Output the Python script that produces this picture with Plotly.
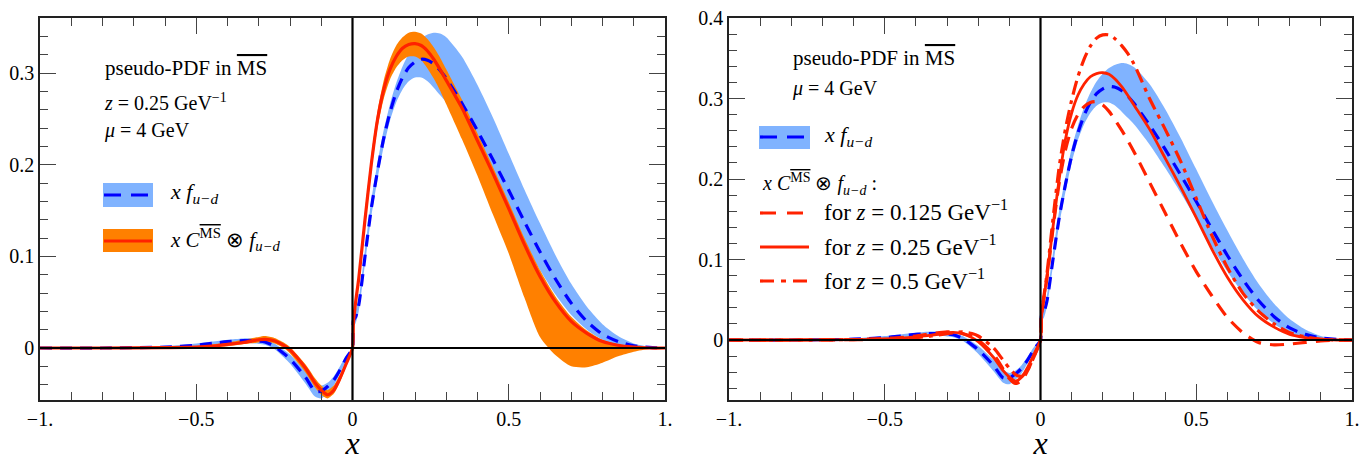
import plotly.graph_objects as go

# ---------------- data ----------------
X_GRID = [-1.0, -0.8, -0.6, -0.5, -0.45, -0.4, -0.35, -0.3, -0.28, -0.25, -0.22, -0.2,
          -0.15, -0.12, -0.1, -0.08, -0.06, -0.04, -0.02, 0.0, 0.003, 0.01, 0.02, 0.04,
          0.06, 0.08, 0.1, 0.12, 0.14, 0.16, 0.18, 0.2, 0.22, 0.24, 0.26, 0.28, 0.3,
          0.35, 0.4, 0.45, 0.5, 0.55, 0.6, 0.65, 0.7, 0.75, 0.8, 0.85, 0.9, 0.95, 1.0]

# x f_{u-d}: central, upper, lower
F_CENTRAL = [0, 0, 0.001, 0.003, 0.005, 0.007, 0.008, 0.0075, 0.0065, 0.002, -0.006, -0.012,
             -0.032, -0.047, -0.047, -0.042, -0.035, -0.024, -0.011, 0, 0.03, 0.034, 0.047, 0.100,
             0.152, 0.193, 0.229, 0.257, 0.279, 0.295, 0.306, 0.312, 0.315, 0.314, 0.310, 0.303, 0.294,
             0.267, 0.237, 0.205, 0.172, 0.138, 0.105, 0.075, 0.049, 0.029, 0.015, 0.007, 0.0025, 0.0007, 0]
F_UPPER = [0, 0.0005, 0.002, 0.005, 0.007, 0.009, 0.0105, 0.0105, 0.0095, 0.005, -0.002, -0.007,
           -0.025, -0.037, -0.041, -0.038, -0.031, -0.020, -0.008, 0, 0.036, 0.041, 0.054, 0.108,
           0.161, 0.202, 0.238, 0.266, 0.289, 0.307, 0.321, 0.331, 0.338, 0.342, 0.344, 0.343, 0.339,
           0.318, 0.287, 0.251, 0.212, 0.173, 0.136, 0.101, 0.070, 0.045, 0.026, 0.013, 0.005, 0.0015, 0]
F_LOWER = [0, -0.0005, 0, 0.001, 0.003, 0.005, 0.0055, 0.0045, 0.0035, -0.001, -0.010, -0.017,
           -0.039, -0.053, -0.055, -0.049, -0.041, -0.028, -0.014, 0, 0.024, 0.027, 0.040, 0.092,
           0.143, 0.184, 0.220, 0.248, 0.268, 0.282, 0.291, 0.295, 0.295, 0.291, 0.284, 0.276, 0.268,
           0.243, 0.214, 0.183, 0.150, 0.116, 0.085, 0.058, 0.036, 0.020, 0.009, 0.003, 0.001, 0, 0]

# x C^MSbar (x) f_{u-d}, z = 0.25 GeV^-1 : central, upper, lower
C_Z025 = [0, 0, 0.0005, 0.001, 0.002, 0.004, 0.006, 0.009, 0.0095, 0.008, 0.003, -0.002,
          -0.022, -0.038, -0.046, -0.051, -0.046, -0.033, -0.017, 0, 0.028, 0.05, 0.076, 0.14,
          0.2, 0.249, 0.282, 0.304, 0.318, 0.327, 0.331, 0.332, 0.330, 0.324, 0.315, 0.304, 0.292,
          0.262, 0.226, 0.19, 0.152, 0.113, 0.078, 0.050, 0.029, 0.016, 0.007, 0.003, 0.001, 0, 0]
C_UPPER = [0, 0, 0.001, 0.002, 0.004, 0.006, 0.009, 0.012, 0.013, 0.011, 0.006, 0.001,
           -0.018, -0.033, -0.041, -0.046, -0.041, -0.029, -0.014, 0, 0.033, 0.056, 0.083, 0.149,
           0.209, 0.258, 0.292, 0.315, 0.330, 0.339, 0.344, 0.345, 0.343, 0.337, 0.328, 0.317, 0.304,
           0.271, 0.234, 0.197, 0.159, 0.12, 0.085, 0.056, 0.034, 0.019, 0.009, 0.004, 0.0015, 0, 0]
C_LOWER = [0, 0, 0, 0, 0.001, 0.002, 0.004, 0.006, 0.007, 0.005, 0, -0.006,
           -0.027, -0.043, -0.051, -0.055, -0.050, -0.037, -0.020, 0, 0.022, 0.044, 0.069, 0.131,
           0.191, 0.24, 0.272, 0.293, 0.306, 0.314, 0.318, 0.318, 0.314, 0.305, 0.294, 0.281, 0.266,
           0.228, 0.188, 0.145, 0.103, 0.055, 0.012, -0.008, -0.020, -0.021, -0.016, -0.009, -0.004, -0.001, 0]

# right panel: z = 0.125 and z = 0.5 GeV^-1
C_Z0125 = [0, 0, 0.0005, 0.002, 0.003, 0.005, 0.008, 0.010, 0.010, 0.008, 0.004, 0,
           -0.018, -0.036, -0.048, -0.054, -0.050, -0.037, -0.019, 0, 0.03, 0.05, 0.075, 0.138,
           0.195, 0.236, 0.263, 0.28, 0.29, 0.295, 0.296, 0.292, 0.284, 0.273, 0.261, 0.248, 0.234,
           0.196, 0.158, 0.12, 0.085, 0.055, 0.028, 0.009, -0.003, -0.006, -0.005, -0.003, -0.001, 0, 0]
C_Z05 = [0, 0, 0.0005, 0.001, 0.002, 0.003, 0.005, 0.008, 0.009, 0.010, 0.008, 0.005,
         -0.010, -0.025, -0.035, -0.043, -0.045, -0.036, -0.020, 0, 0.03, 0.052, 0.08, 0.15,
         0.215, 0.262, 0.298, 0.327, 0.349, 0.365, 0.375, 0.379, 0.379, 0.374, 0.366, 0.356, 0.343,
         0.300, 0.262, 0.222, 0.176, 0.13, 0.09, 0.058, 0.036, 0.02, 0.009, 0.004, 0.001, 0, 0]

X_TICKVALS = [-1, -0.5, 0, 0.5, 1]
X_TICKTEXT = ["\u22121.", "\u22120.5", "0", "0.5", "1."]
Y1_TICKVALS = [0, 0.1, 0.2, 0.3]
Y1_TICKTEXT = ["0", "0.1", "0.2", "0.3"]
Y2_TICKVALS = [0, 0.1, 0.2, 0.3, 0.4]
Y2_TICKTEXT = ["0", "0.1", "0.2", "0.3", "0.4"]

# ---------------- styling ----------------
OFF = 8                      # page body margin
W, H = 1370 - OFF, 461 - OFF
ML, MR, MT, MB = 40 - OFF, W - (1352 - OFF), 18 - OFF, H - (400 - OFF)
PW, PH = W - ML - MR, H - MT - MB
FONT = "Liberation Serif"
LBLUE = "#80b3ff"
DBLUE = "#0000ff"
ORANGE = "#ff8000"
RED = "#ff2200"
SM = 0.7


def pp(px, py):
    """page pixel -> paper fraction"""
    fx, fy = px - OFF, py - OFF
    return (fx - ML) / PW, (H - MB - fy) / PH


fig = go.Figure()


def band(lower, upper, color, xa, ya):
    fig.add_trace(go.Scatter(x=X_GRID, y=lower, mode="lines", line=dict(width=0, shape="spline", smoothing=SM),
                             xaxis=xa, yaxis=ya, showlegend=False, hoverinfo="skip"))
    fig.add_trace(go.Scatter(x=X_GRID, y=upper, mode="lines", line=dict(width=0, shape="spline", smoothing=SM),
                             fill="tonexty", fillcolor=color, xaxis=xa, yaxis=ya, showlegend=False,
                             hoverinfo="skip"))


def curve(y, color, dash, width, xa, ya):
    fig.add_trace(go.Scatter(x=X_GRID, y=y, mode="lines",
                             line=dict(color=color, dash=dash, width=width, shape="spline", smoothing=SM),
                             xaxis=xa, yaxis=ya, showlegend=False, hoverinfo="skip"))


# left panel
band(F_LOWER, F_UPPER, LBLUE, "x", "y")
band(C_LOWER, C_UPPER, ORANGE, "x", "y")
curve(F_CENTRAL, DBLUE, "12px,8px", 3.2, "x", "y")
curve(C_Z025, RED, "solid", 3.2, "x", "y")

# right panel
band(F_LOWER, F_UPPER, LBLUE, "x2", "y2")
curve(F_CENTRAL, DBLUE, "12px,8px", 3.2, "x2", "y2")
curve(C_Z0125, RED, "14px,9px", 3.2, "x2", "y2")
curve(C_Z025, RED, "solid", 2.8, "x2", "y2")
curve(C_Z05, RED, "14px,6px,4px,6px", 3.2, "x2", "y2")

axis_common = dict(showgrid=False, zeroline=False, showline=True, linecolor="#222", linewidth=1.5,
                   mirror="allticks", ticks="inside", tickcolor="#444", tickwidth=1.3, automargin=False,
                   ticklabeloverflow="allow",
                   tickfont=dict(family=FONT, size=20, color="black"))

xl_dom = [0, (665 - 40) / PW]
xr_dom = [(729 - 40) / PW, 1]

xaxis_kw = dict(axis_common, range=[-1, 1], tickvals=X_TICKVALS, ticktext=X_TICKTEXT, ticklen=16,
                minor=dict(dtick=0.1, tick0=0, ticks="inside", ticklen=8, tickcolor="#444", tickwidth=1.2,
                           showgrid=False),
                title=dict(text="<i>x</i>", font=dict(family=FONT, size=32, color="black"), standoff=10))

yminor = dict(dtick=0.02, tick0=0, ticks="inside", ticklen=8, tickcolor="#444", tickwidth=1.2, showgrid=False)

fig.update_layout(
    width=W, height=H, autosize=False,
    margin=dict(l=ML, r=MR, t=MT, b=MB, autoexpand=False),
    paper_bgcolor="white", plot_bgcolor="white",
    xaxis=dict(xaxis_kw, domain=xl_dom, anchor="y"),
    xaxis2=dict(xaxis_kw, domain=xr_dom, anchor="y2"),
    yaxis=dict(axis_common, domain=[0, 1], range=[-0.0567, 0.36], tickvals=Y1_TICKVALS, ticktext=Y1_TICKTEXT,
               ticklen=16, anchor="x", minor=yminor),
    yaxis2=dict(axis_common, domain=[0, 1], range=[-0.0745, 0.4], tickvals=Y2_TICKVALS,
                ticktext=Y2_TICKTEXT, ticklen=16, anchor="x2", minor=yminor),
    font=dict(family=FONT, color="black"),
)

# black zero lines over the curves
for xa, ya in (("x", "y"), ("x2", "y2")):
    fig.add_shape(type="line", xref=xa, yref=ya + " domain", x0=0, x1=0, y0=0, y1=1,
                  line=dict(color="black", width=2.2), layer="above")
    fig.add_shape(type="line", xref=xa + " domain", yref=ya, x0=0, x1=1, y0=0, y1=0,
                  line=dict(color="black", width=2.2), layer="above")

MSBAR = '<span style="text-decoration:overline">MS</span>'


def text(px, py, s, size=18):
    x, y = pp(px, py)
    fig.add_annotation(x=x, y=y, xref="paper", yref="paper", text=s, showarrow=False,
                       xanchor="left", yanchor="middle", font=dict(family=FONT, size=size, color="black"))


def swatch_rect(px0, px1, py0, py1, color):
    x0, y0 = pp(px0, py1)
    x1, y1 = pp(px1, py0)
    fig.add_shape(type="rect", xref="paper", yref="paper", x0=x0, x1=x1, y0=y0, y1=y1,
                  fillcolor=color, line=dict(width=0), layer="above")


def swatch_line(px0, px1, py, color, dash, width=3.2):
    x0, y = pp(px0, py)
    x1, _ = pp(px1, py)
    fig.add_shape(type="line", xref="paper", yref="paper", x0=x0, x1=x1, y0=y, y1=y,
                  line=dict(color=color, dash=dash, width=width), layer="above")


# left panel texts / legend
text(103, 68, "pseudo-PDF in " + MSBAR, 21)
text(102, 102, "<i>z</i> = 0.25 GeV<sup>\u22121</sup>", 20)
text(102, 131, "<i>\u03bc</i> = 4 GeV", 20)
swatch_rect(103, 153, 183, 207, LBLUE)
swatch_line(104, 152, 195, DBLUE, "17px,10px")
text(168, 193, "<i>x f</i><sub><i>u\u2212d</i></sub>", 22)
swatch_rect(103, 153, 229, 252, ORANGE)
swatch_line(104, 152, 241, RED, "solid")
text(168, 239, "<i>x C</i><sup>" + MSBAR + "</sup> \u2297 <i>f</i><sub><i>u\u2212d</i></sub>", 21)

# right panel texts / legend
text(791, 58, "pseudo-PDF in " + MSBAR, 21)
text(790, 88, "<i>\u03bc</i> = 4 GeV", 20)
swatch_rect(759, 810, 126, 149, LBLUE)
swatch_line(760, 809, 137, DBLUE, "17px,10px")
text(822, 136, "<i>x f</i><sub><i>u\u2212d</i></sub>", 22)
text(760, 184, "<i>x C</i><sup>" + MSBAR + "</sup> \u2297 <i>f</i><sub><i>u\u2212d</i></sub> :", 20)
swatch_line(760, 809, 213, RED, "16px,11px")
text(822, 211, "for <i>z</i> = 0.125 GeV<sup>\u22121</sup>", 23)
swatch_line(760, 809, 247, RED, "solid")
text(822, 245, "for <i>z</i> = 0.25 GeV<sup>\u22121</sup>", 23)
swatch_line(760, 809, 281, RED, "14px,7px,5px,7px")
text(822, 279, "for <i>z</i> = 0.5 GeV<sup>\u22121</sup>", 23)

fig.write_html("out.html")
